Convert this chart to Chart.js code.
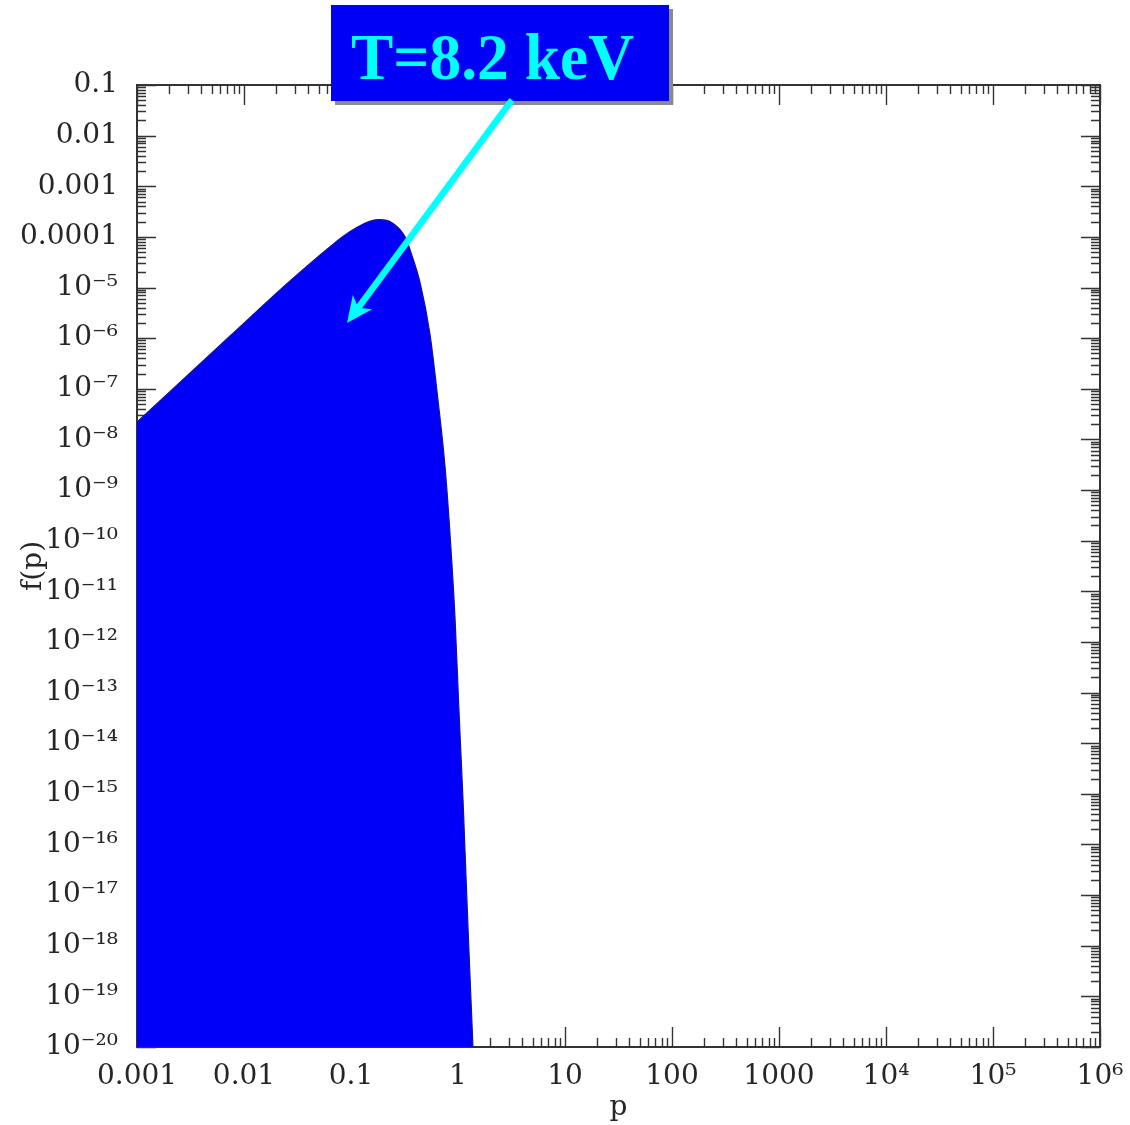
<!DOCTYPE html>
<html><head><meta charset="utf-8">
<script src="https://cdn.jsdelivr.net/npm/chart.js@4/dist/chart.umd.min.js"></script>
<style>html,body{margin:0;padding:0;background:#fff;}#wrap{width:1130px;height:1125px;position:relative}</style>
</head><body><div id="wrap"><canvas id="c" width="1130" height="1125"></canvas></div>
<script>
// ---- data ----
const momentum = [0.001, 0.0025, 0.0074, 0.0217, 0.04, 0.0637, 0.084, 0.114, 0.145, 0.179, 0.21, 0.247, 0.32, 0.37, 0.44, 0.547, 0.65, 0.757, 0.841, 0.937, 1.02, 1.114, 1.25, 1.38];
const distribution = [2.2e-8, 1.32e-7, 1.1e-6, 9.0e-6, 2.8e-5, 6.4e-5, 1.02e-4, 1.55e-4, 1.98e-4, 2.2e-4, 2.15e-4, 1.85e-4, 1.0e-4, 4.4e-5, 1.3e-5, 1.2e-6, 6e-8, 2.85e-9, 1.4e-10, 3.1e-12, 4.6e-14, 7.6e-16, 1.5e-18, 1e-20];
const xTickValues = [1e-3, 1e-2, 1e-1, 1, 10, 100, 1000, 1e4, 1e5, 1e6];
const xTickLabels = ['0.001', '0.01', '0.1', '1', '10', '100', '1000', '10⁴', '10⁵', '10⁶'];
const yTickValues = [1e-1, 1e-2, 1e-3, 1e-4, 1e-5, 1e-6, 1e-7, 1e-8, 1e-9, 1e-10, 1e-11, 1e-12, 1e-13, 1e-14, 1e-15, 1e-16, 1e-17, 1e-18, 1e-19, 1e-20];
const yTickLabels = ['0.1', '0.01', '0.001', '0.0001', '10⁻⁵', '10⁻⁶', '10⁻⁷', '10⁻⁸', '10⁻⁹', '10⁻¹⁰', '10⁻¹¹', '10⁻¹²', '10⁻¹³', '10⁻¹⁴', '10⁻¹⁵', '10⁻¹⁶', '10⁻¹⁷', '10⁻¹⁸', '10⁻¹⁹', '10⁻²⁰'];
const xTitle = 'p';
const yTitle = 'f(p)';
const annotationText = 'T=8.2 keV';

const FONT = "'DejaVu Serif', serif";
const TXT = '#262626';

function lookup(vals, labels, v) {
  for (let i = 0; i < vals.length; i++) if (Math.abs(Math.log10(vals[i]) - Math.log10(v)) < 1e-6) return labels[i];
  return '';
}

const framePlugin = {
  id: 'frame',
  beforeDatasetsDraw(chart) {
    const {ctx, chartArea: a, scales: {x, y}} = chart;
    ctx.save();
    ctx.strokeStyle = '#333';
    ctx.lineWidth = 1.4;
    ctx.beginPath();
    const xe0 = Math.round(Math.log10(x.min)), xe1 = Math.round(Math.log10(x.max));
    for (let e = xe0; e <= xe1; e++) {
      for (let k = 1; k <= 9; k++) {
        const v = k * Math.pow(10, e);
        if (v > x.max * 1.0001) break;
        const px = Math.round(x.getPixelForValue(v)) + 0.5;
        const len = k === 1 ? 20 : 9;
        ctx.moveTo(px, a.bottom); ctx.lineTo(px, a.bottom - len);
        ctx.moveTo(px, a.top); ctx.lineTo(px, a.top + len);
      }
    }
    const ye0 = Math.round(Math.log10(y.min)), ye1 = Math.round(Math.log10(y.max));
    for (let e = ye0; e <= ye1; e++) {
      for (let k = 1; k <= 9; k++) {
        const v = k * Math.pow(10, e);
        if (v > y.max * 1.0001) break;
        const py = Math.round(y.getPixelForValue(v)) + 0.5;
        const len = k === 1 ? 19 : 9;
        ctx.moveTo(a.left, py); ctx.lineTo(a.left + len, py);
        ctx.moveTo(a.right, py); ctx.lineTo(a.right - len, py);
      }
    }
    ctx.stroke();
    ctx.lineWidth = 2;
    ctx.strokeRect(a.left, a.top, a.right - a.left, a.bottom - a.top);
    ctx.restore();
  },
  afterDraw(chart) {
    const ctx = chart.ctx;
    ctx.save();
    // label box with shadow
    const bx = 331, by = 5, bw = 338, bh = 96;
    ctx.fillStyle = '#8a8a8a';
    ctx.fillRect(bx + 4, by + 4, bw, bh);
    ctx.fillStyle = '#0000f5';
    ctx.fillRect(bx, by, bw, bh);
    ctx.fillStyle = '#00ffff';
    ctx.font = "bold 66px 'Liberation Serif', 'Times New Roman', serif";
    ctx.textBaseline = 'alphabetic';
    ctx.textAlign = 'left';
    ctx.fillText(annotationText, 351, 79, 283);
    // arrow
    const sx = 512, sy = 100, tx = 347, ty = 323;
    const dx = sx - tx, dy = sy - ty, L = Math.hypot(dx, dy);
    const ux = dx / L, uy = dy / L, nx = -uy, ny = ux;
    const head = 26, half = 12, notch = 19;
    ctx.strokeStyle = '#00ffff';
    ctx.lineWidth = 6.5;
    ctx.lineCap = 'butt';
    ctx.beginPath();
    ctx.moveTo(sx, sy);
    ctx.lineTo(tx + ux * notch, ty + uy * notch);
    ctx.stroke();
    ctx.fillStyle = '#00ffff';
    ctx.beginPath();
    ctx.moveTo(tx, ty);
    ctx.lineTo(tx + ux * head + nx * half, ty + uy * head + ny * half);
    ctx.lineTo(tx + ux * notch, ty + uy * notch);
    ctx.lineTo(tx + ux * head - nx * half, ty + uy * head - ny * half);
    ctx.closePath();
    ctx.fill();
    ctx.restore();
  }
};

new Chart(document.getElementById('c'), {
  type: 'line',
  data: {
    datasets: [{
      data: momentum.map((p, i) => ({x: p, y: distribution[i]})),
      fill: 'start',
      backgroundColor: '#0000fa',
      borderColor: '#14148c',
      borderWidth: 1.2,
      pointRadius: 0,
      cubicInterpolationMode: 'monotone'
    }]
  },
  options: {
    responsive: false,
    animation: false,
    devicePixelRatio: 1,
    layout: {padding: {top: 85, right: 30, left: 0, bottom: 0}},
    plugins: {legend: {display: false}, tooltip: {enabled: false}},
    scales: {
      x: {
        type: 'logarithmic', position: 'bottom', min: 1e-3, max: 1e6,
        grid: {display: false, drawTicks: false}, border: {display: false},
        afterBuildTicks: s => { s.ticks = xTickValues.map(v => ({value: v})); },
        afterFit: s => { s.height = 78; s.paddingLeft = 0; s.paddingRight = 0; },
        ticks: {
          autoSkip: false, maxRotation: 0, minRotation: 0, padding: 13,
          color: TXT, font: {family: FONT, size: 28},
          callback: v => lookup(xTickValues, xTickLabels, v)
        },
        title: {display: true, text: xTitle, color: TXT, font: {family: FONT, size: 28}, padding: {top: 0, bottom: 0}}
      },
      y: {
        type: 'logarithmic', position: 'left', min: 1e-20, max: 0.1,
        grid: {display: false, drawTicks: false}, border: {display: false},
        afterBuildTicks: s => { s.ticks = yTickValues.map(v => ({value: v})); },
        afterFit: s => { s.width = 137; s.paddingTop = 0; s.paddingBottom = 0; },
        ticks: {
          autoSkip: false, padding: 19,
          color: TXT, font: {family: FONT, size: 28},
          callback: v => lookup(yTickValues, yTickLabels, v)
        },
        title: {display: true, text: yTitle, color: TXT, font: {family: FONT, size: 28}, padding: {top: 17, bottom: 0}}
      }
    }
  },
  plugins: [framePlugin]
});
</script>
</body></html>
